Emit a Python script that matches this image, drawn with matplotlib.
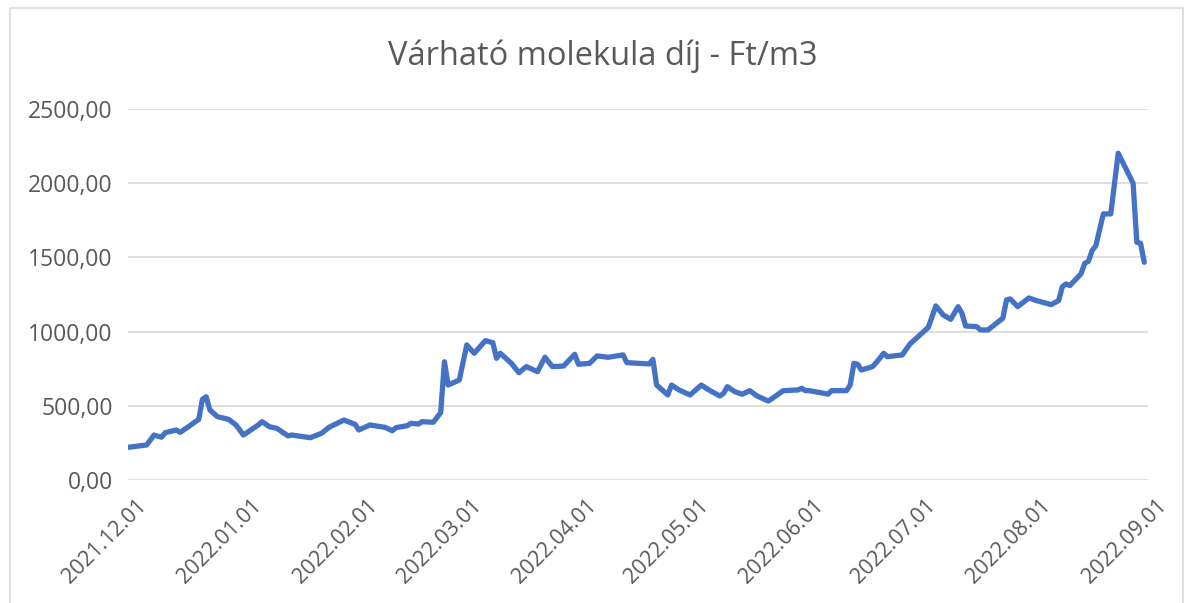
import matplotlib
matplotlib.use("Agg")
import matplotlib.pyplot as plt
import matplotlib.dates as mdates
import matplotlib.transforms as mtransforms
from matplotlib.patches import Rectangle
import pandas as pd

title = "Várható molekula díj - Ft/m3"

dates = [
    "2021-12-01", "2021-12-06", "2021-12-08", "2021-12-10", "2021-12-11", "2021-12-14",
    "2021-12-15", "2021-12-17", "2021-12-20", "2021-12-21", "2021-12-22", "2021-12-23",
    "2021-12-25", "2021-12-28", "2021-12-30", "2022-01-01", "2022-01-03", "2022-01-05",
    "2022-01-06", "2022-01-08", "2022-01-10", "2022-01-13", "2022-01-14", "2022-01-17",
    "2022-01-19", "2022-01-22", "2022-01-24", "2022-01-28", "2022-01-31", "2022-02-01",
    "2022-02-04", "2022-02-08", "2022-02-10", "2022-02-11", "2022-02-14", "2022-02-15",
    "2022-02-17", "2022-02-18", "2022-02-21", "2022-02-23", "2022-02-24", "2022-02-25",
    "2022-02-28", "2022-03-02", "2022-03-04", "2022-03-07", "2022-03-09", "2022-03-10",
    "2022-03-11", "2022-03-14", "2022-03-16", "2022-03-18", "2022-03-21", "2022-03-23",
    "2022-03-25", "2022-03-28", "2022-03-31", "2022-04-01", "2022-04-04", "2022-04-06",
    "2022-04-09", "2022-04-13", "2022-04-14", "2022-04-20", "2022-04-21", "2022-04-22",
    "2022-04-25", "2022-04-26", "2022-04-28", "2022-05-01", "2022-05-04", "2022-05-06",
    "2022-05-09", "2022-05-10", "2022-05-11", "2022-05-13", "2022-05-15", "2022-05-17",
    "2022-05-19", "2022-05-22", "2022-05-24", "2022-05-26", "2022-05-30", "2022-05-31",
    "2022-06-01", "2022-06-02", "2022-06-06", "2022-06-07", "2022-06-08", "2022-06-12",
    "2022-06-13", "2022-06-14", "2022-06-15", "2022-06-16", "2022-06-19", "2022-06-20",
    "2022-06-22", "2022-06-23", "2022-06-27", "2022-06-29", "2022-07-04", "2022-07-06",
    "2022-07-08", "2022-07-10", "2022-07-12", "2022-07-13", "2022-07-14", "2022-07-17",
    "2022-07-18", "2022-07-20", "2022-07-24", "2022-07-25", "2022-07-26", "2022-07-28",
    "2022-07-31", "2022-08-02", "2022-08-06", "2022-08-08", "2022-08-09", "2022-08-10",
    "2022-08-11", "2022-08-14", "2022-08-15", "2022-08-16", "2022-08-17", "2022-08-18",
    "2022-08-20", "2022-08-22", "2022-08-24", "2022-08-28", "2022-08-29", "2022-08-30",
    "2022-08-31",
]

prices = [
    220, 236, 303, 288, 319, 337,
    321, 355, 409, 544, 561, 472,
    427, 409, 371, 303, 337, 371,
    393, 359, 348, 297, 303, 292,
    285, 315, 355, 404, 375, 337,
    371, 355, 332, 353, 366, 382,
    377, 393, 389, 454, 797, 640,
    674, 910, 854, 939, 925, 820,
    854, 786, 723, 764, 730, 827,
    764, 768, 847, 780, 786, 836,
    827, 843, 791, 782, 813, 640,
    573, 640, 607, 573, 640, 607,
    566, 584, 629, 595, 578, 602,
    566, 532, 566, 602, 607, 618,
    602, 602, 584, 578, 602, 602,
    640, 786, 780, 741, 764, 791,
    854, 831, 843, 915, 1029, 1173,
    1112, 1083, 1168, 1124, 1038, 1033,
    1011, 1011, 1090, 1214, 1220, 1168,
    1227, 1209, 1182, 1209, 1303, 1321,
    1310, 1389, 1460, 1474, 1546, 1580,
    1793, 1793, 2202, 2000, 1602, 1595,
    1467,
]

tick_dates = ["2021-12-01", "2022-01-01", "2022-02-01", "2022-03-01", "2022-04-01",
              "2022-05-01", "2022-06-01", "2022-07-01", "2022-08-01", "2022-09-01"]
y_ticks = [0, 500, 1000, 1500, 2000, 2500]

plt.rcParams['font.family'] = ['Open Sans', 'DejaVu Sans']

W, H = 1185, 603
fig = plt.figure(figsize=(W / 100, H / 100), dpi=100)
ax = fig.add_axes([128 / W, 1 - 480 / H, (1148 - 128) / W, (480 - 109) / H])

x = pd.to_datetime(dates)
ax.plot(x, prices, color="#4472C4", lw=3.8, solid_joinstyle="round", solid_capstyle="round", zorder=3)

ax.set_ylim(0, 2500)
ax.set_xlim(pd.Timestamp("2021-12-01"), pd.Timestamp("2022-09-01"))
ax.set_yticks(y_ticks)
ax.set_yticklabels([f"{v:.2f}".replace(".", ",") for v in y_ticks])
ax.set_xticks(pd.to_datetime(tick_dates))
ax.xaxis.set_major_formatter(mdates.DateFormatter("%Y.%m.%d"))

ax.grid(axis="y", color="#D9D9D9", lw=1.2)
ax.grid(axis="x", visible=False)
for s in ax.spines.values():
    s.set_visible(False)
ax.tick_params(axis="both", length=0, colors="#595959")
ax.tick_params(axis="y", pad=11, labelsize=16.5)
ax.tick_params(axis="x", pad=11, labelsize=15.5)

offset = mtransforms.ScaledTranslation(8 / 100, 0, fig.dpi_scale_trans)
for lbl in ax.get_xticklabels():
    lbl.set_rotation(45)
    lbl.set_ha("right")
    lbl.set_va("top")
    lbl.set_rotation_mode("anchor")
    lbl.set_transform(lbl.get_transform() + offset)

fig.text(603 / W, 1 - 56 / H, title, ha="center", va="center", fontsize=23.5, color="#595959")

fig.patches.append(Rectangle((10 / W, -0.05), (1183 - 10) / W, 1.05 - 8 / H,
                             transform=fig.transFigure, fill=False, edgecolor="#D9D9D9", lw=1.2))

fig.savefig("out.png", dpi=100)
